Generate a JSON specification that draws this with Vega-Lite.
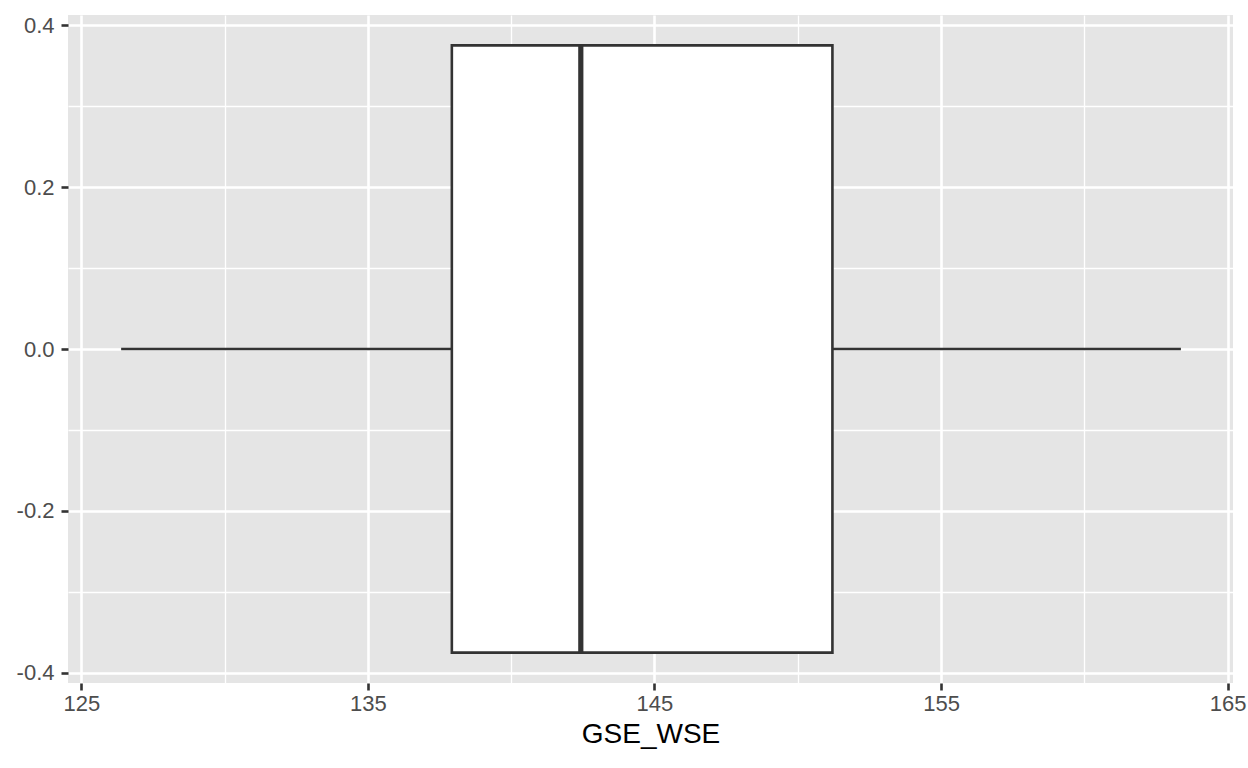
{
  "$schema": "https://vega.github.io/schema/vega-lite/v6.json",
  "width": 1165,
  "height": 668,
  "autosize": "none",
  "padding": {"left": 68, "top": 15, "right": 15, "bottom": 85},
  "background": "white",
  "config": {
    "view": {"fill": "#E5E5E5", "stroke": null},
    "font": "Liberation Sans"
  },
  "data": {"values": [{"var": "GSE_WSE", "min": 126.39, "q1": 137.93, "median": 142.43, "q3": 151.21, "max": 163.37}]},
  "encoding": {
    "x": {
      "field": "min", "type": "quantitative",
      "scale": {"domain": [124.536, 165.188], "nice": false, "zero": false},
      "axis": {
        "title": "GSE_WSE",
        "values": [125, 130, 135, 140, 145, 150, 155, 160, 165],
        "labelExpr": "datum.value % 10 == 5 ? datum.label : ''",
        "grid": true,
        "gridColor": "white",
        "gridWidth": {"condition": {"test": "datum.value % 10 == 5", "value": 2.6}, "value": 1.3},
        "domain": false,
        "tickColor": "#333333",
        "tickWidth": 2.6,
        "tickSize": 7,
        "tickOpacity": {"condition": {"test": "datum.value % 10 == 5", "value": 1}, "value": 0},
        "labelFontSize": 22,
        "labelColor": "#4D4D4D",
        "labelPadding": 3,
        "labelFont": "Liberation Sans",
        "titleFont": "Liberation Sans",
        "titleFontSize": 28,
        "titleFontWeight": "normal",
        "titleColor": "black",
        "titlePadding": 6
      }
    }
  },
  "layer": [
    {
      "mark": {"type": "rule", "color": "#333333", "strokeWidth": 2.6},
      "encoding": {
        "x": {"field": "min", "type": "quantitative"},
        "x2": {"field": "q1"},
        "y": {
          "datum": 0, "type": "quantitative",
          "scale": {"domain": [-0.4125, 0.4125], "nice": false, "zero": false},
          "axis": {
            "title": null,
            "values": [-0.4, -0.3, -0.2, -0.1, 0, 0.1, 0.2, 0.3, 0.4],
            "labelExpr": "abs(round(datum.value * 10)) % 2 == 0 ? ((datum.value < -0.0001 ? '-' : '') + format(abs(datum.value), '.1f')) : ''",
            "grid": true,
            "gridColor": "white",
            "gridWidth": {"condition": {"test": "abs(round(datum.value * 10)) % 2 == 0", "value": 2.6}, "value": 1.3},
            "domain": false,
            "tickColor": "#333333",
            "tickWidth": 2.6,
            "tickSize": 7,
            "tickOpacity": {"condition": {"test": "abs(round(datum.value * 10)) % 2 == 0", "value": 1}, "value": 0},
            "labelFontSize": 22,
            "labelColor": "#4D4D4D",
            "labelPadding": 7,
            "labelFont": "Liberation Sans"
          }
        }
      }
    },
    {
      "mark": {"type": "rule", "color": "#333333", "strokeWidth": 2.6},
      "encoding": {
        "x": {"field": "q3", "type": "quantitative"},
        "x2": {"field": "max"},
        "y": {"datum": 0, "type": "quantitative"}
      }
    },
    {
      "mark": {"type": "rect", "fill": "white", "stroke": "#333333", "strokeWidth": 2.6},
      "encoding": {
        "x": {"field": "q1", "type": "quantitative"},
        "x2": {"field": "q3"},
        "y": {"datum": 0.375, "type": "quantitative"},
        "y2": {"datum": -0.375}
      }
    },
    {
      "mark": {"type": "rule", "color": "#333333", "strokeWidth": 5.2},
      "encoding": {
        "x": {"field": "median", "type": "quantitative"},
        "y": {"datum": 0.375, "type": "quantitative"},
        "y2": {"datum": -0.375}
      }
    }
  ]
}
